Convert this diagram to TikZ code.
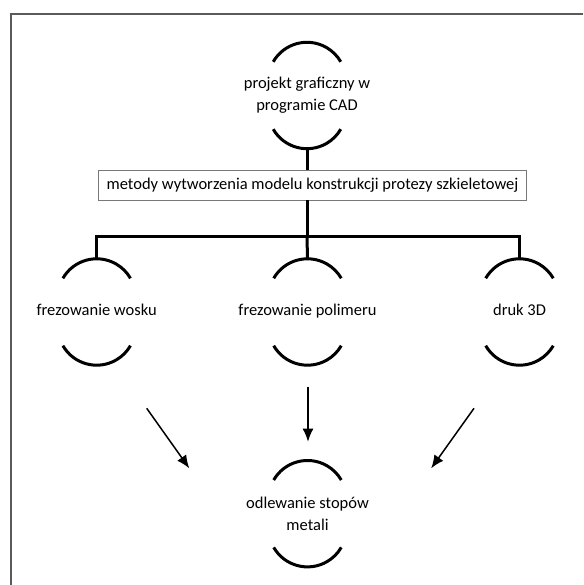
\documentclass[tikz,border=0pt]{standalone}
\usepackage{fontspec}
\setmainfont{Carlito}
\usetikzlibrary{arrows.meta}

\definecolor{ramka}{HTML}{5A5A5A}
\definecolor{obwodka}{HTML}{777777}

\tikzset{
	luk/.style={line width=3pt},
	linia/.style={line width=3pt},
	wezel/.style={minimum width=78pt, minimum height=106pt, inner sep=0pt, align=center},
	jedna/.style={text height=12pt, text depth=4pt},
	strzalka/.style={line width=1.5pt, -{Latex[length=13pt,width=11pt]}}
}

% Łuki nad i pod tekstem węzła
\newcommand{\luki}[1]{%
	\draw[luk] ([xshift=-33.8pt,yshift=-19.5pt]#1.north) arc[start angle=150, end angle=30, radius=39pt];
	\draw[luk] ([xshift=-33.8pt,yshift=19.5pt]#1.south) arc[start angle=210, end angle=330, radius=39pt];
}

\begin{document}
\begin{tikzpicture}[x=1pt, y=1pt, font=\fontsize{16.5}{22}\selectfont]
				\useasboundingbox (0,0) rectangle (583,585);
				
				% Ramka (tylko góra i lewa strona)
				\draw[ramka, line width=2pt] (583,571) -- (11,571) -- (11,0);
				
				% Węzły
				\node[wezel] (cad) at (307,489.5) {projekt graficzny w\\programie CAD};
				\node[draw=obwodka, line width=0.8pt, minimum width=428.4pt, minimum height=29.3pt, inner sep=0pt, jedna] (metody) at (312.5,399.7) {metody wytworzenia modelu konstrukcji protezy szkieletowej};
				\node[wezel, jedna] (wosk) at (96.7,273) {frezowanie wosku};
				\node[wezel, jedna] (polimer) at (307.5,273) {frezowanie polimeru};
				\node[wezel, jedna] (druk) at (519.5,273) {druk 3D};
				\node[wezel] (odlew) at (307.5,71.3) {odlewanie stopów\\metali};
				
				% Łuki
				\luki{cad}
				\luki{wosk}
				\luki{polimer}
				\luki{druk}
				\luki{odlew}
				
				% Połączenia
				\coordinate (rozgal) at (307,348);
				\draw[linia] (cad.south) -- (cad.south |- metody.north);
				\draw[linia] (cad.south |- metody.south) -- (rozgal);
				\draw[linia] (wosk.north) |- (rozgal) -| (druk.north);
				\draw[linia] (rozgal) -- (polimer.north);
				
				% Strzałki
				\coordinate (w1) at (146.7,176.7);
				\coordinate (w2) at (189.3,116.7);
				\coordinate (p1) at (308,198.3);
				\coordinate (p2) at (308,143.3);
				\coordinate (d1) at (474,176.7);
				\coordinate (d2) at (431.2,116.7);
				\draw[strzalka] (w1) -- (w2);
				\draw[strzalka] (p1) -- (p2);
				\draw[strzalka] (d1) -- (d2);
			\end{tikzpicture}
\end{document}
